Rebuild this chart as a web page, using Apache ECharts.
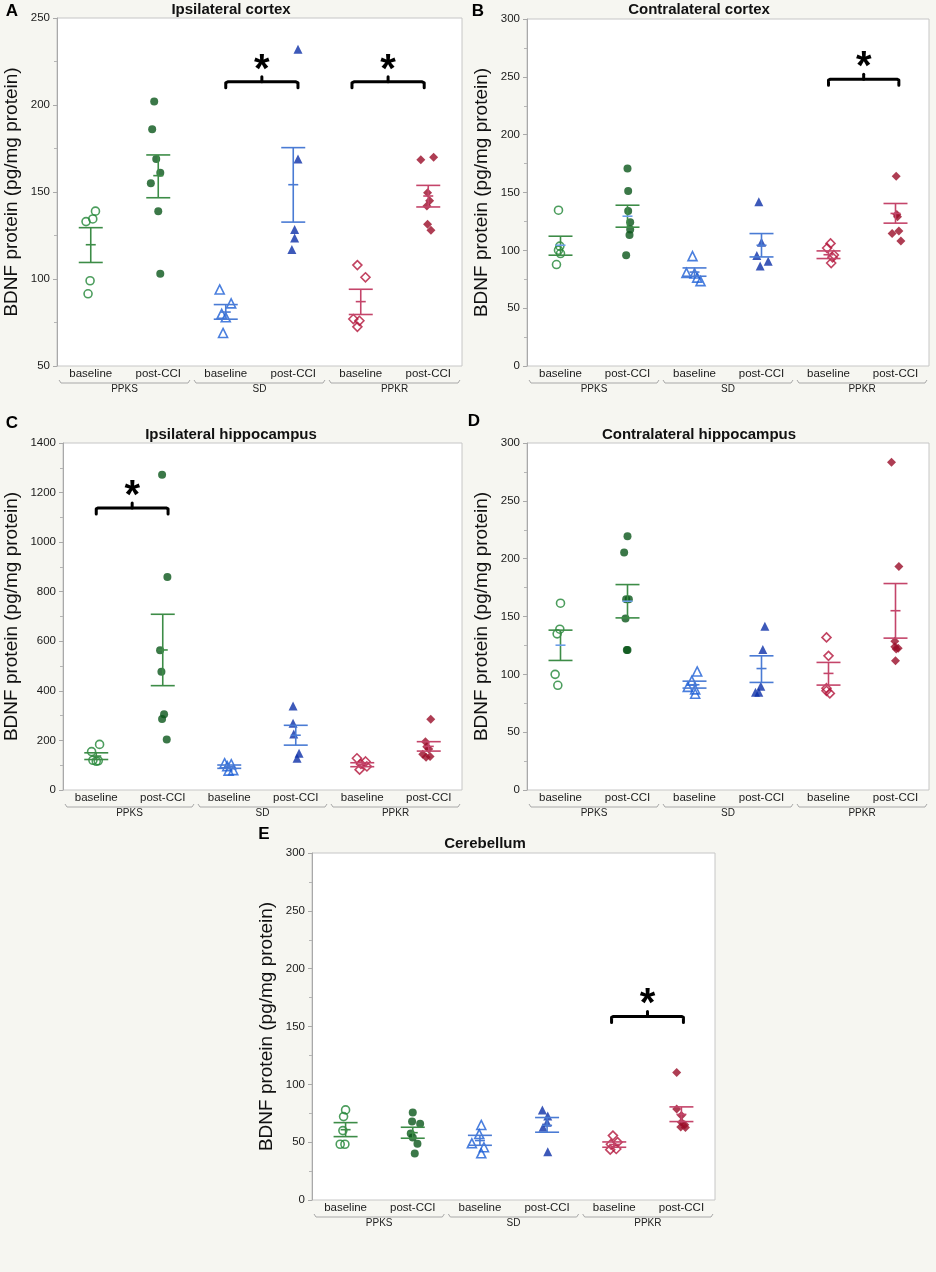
<!DOCTYPE html>
<html><head><meta charset="utf-8">
<script src="https://cdn.jsdelivr.net/npm/echarts@6/dist/echarts.min.js"></script>
<style>html,body{margin:0;padding:0;background:#f6f6f1}#c{width:936px;height:1272px}</style>
</head><body><div id="c"></div>
<script>
// ---------- shared labels ----------
const categories = ['baseline','post-CCI','baseline','post-CCI','baseline','post-CCI'];
const groups = ['PPKS','SD','PPKR'];
const yAxisName = 'BDNF protein (pg/mg protein)';

// ---------- A: Ipsilateral cortex ----------
const ipsiCortexValues = [
  [133,134.5,139,99,91.5],
  [202,186,169,161,155,139,103],
  [94,86,80,78,69],
  [232,169,128.5,123.5,117],
  [108,101,77,76,72.5],
  [168.5,170,149.5,145,142,131.5,128]
];
const ipsiCortexJitter = [
  [-0.07,0.03,0.07,-0.01,-0.04],
  [-0.06,-0.09,-0.03,0.03,-0.11,0,0.03],
  [-0.09,0.08,-0.06,0,-0.04],
  [0.07,0.07,0.02,0.02,-0.02],
  [-0.05,0.07,-0.11,-0.02,-0.05],
  [-0.11,0.08,-0.01,0.02,-0.02,-0.01,0.04]
];
const ipsiCortexMean  = [119.7,159.4,81,154.2,87,147.7];
const ipsiCortexUpper = [129.5,171.3,85.3,175.5,94.1,153.8];
const ipsiCortexLower = [109.5,146.7,76.9,132.7,79.6,141.4];
const ipsiCortexSig   = [[2,3.07,213.3],[3.87,4.94,213.3]];

// ---------- B: Contralateral cortex ----------
const contraCortexValues = [
  [134.7,103.6,100.1,97.2,87.7],
  [170.8,151.2,134.1,124.3,118,113.3,95.8],
  [95,80.5,80,76.4,73.4],
  [142,107,95.5,90.5,86.5],
  [106,102,96,94,89],
  [164,131,129,116.8,114.5,108]
];
const contraCortexJitter = [
  [-0.03,-0.01,-0.03,0,-0.06],
  [0,0.01,0.01,0.04,0.04,0.03,-0.02],
  [-0.03,-0.12,0,0.04,0.09],
  [-0.04,0,-0.07,0.1,-0.02],
  [0.03,-0.02,0.08,0.06,0.04],
  [0.01,0.02,0.03,0.05,-0.05,0.08]
];
const contraCortexMean  = [104.4,129.5,81.2,104.4,96.2,131.9];
const contraCortexUpper = [112.2,139,84.8,114.5,99.5,140.5];
const contraCortexLower = [95.8,120,77.6,94.3,92.9,123.5];
const contraCortexSig   = [[4,5.05,248]];

// ---------- C: Ipsilateral hippocampus ----------
const ipsiHippoValues = [
  [184,155,120,118,116],
  [1272,859,564,477,306,286,204],
  [108,104,96,80,78],
  [339,269,226,148,128],
  [128,115,105,95,82],
  [285,195,175,165,144,135,132]
];
const ipsiHippoJitter = [
  [0.05,-0.07,-0.05,0.03,0],
  [-0.01,0.07,-0.04,-0.02,0.02,-0.01,0.06],
  [-0.07,0.03,-0.03,0.06,-0.01],
  [-0.04,-0.04,-0.03,0.05,0.02],
  [-0.08,0.05,-0.02,0.07,-0.04],
  [0.03,-0.05,-0.03,0,-0.09,0.02,-0.04]
];
const ipsiHippoMean  = [137,565,94,221,103,176];
const ipsiHippoUpper = [150,709,100.8,261,110,195];
const ipsiHippoLower = [123,421,87.4,181,94,157];
const ipsiHippoSig   = [[0,1.08,1138]];

// ---------- D: Contralateral hippocampus ----------
const contraHippoValues = [
  [161.5,139,135,100,90.5],
  [219.4,205.3,165,165,148.3,121,121],
  [102.5,94.4,89.2,87,83.2],
  [141.6,121.5,89.8,84.6,84.6],
  [131.9,116,88,85.8,83.5],
  [283.3,193.2,128.7,123.8,122.6,122,111.7]
];
const contraHippoJitter = [
  [0,-0.01,-0.05,-0.08,-0.04],
  [0,-0.05,0.02,-0.02,-0.03,-0.01,0],
  [0.04,-0.04,-0.1,0.01,0.01],
  [0.05,0.02,-0.01,-0.09,-0.04],
  [-0.03,0,-0.03,-0.03,0.02],
  [-0.06,0.05,-0.01,-0.01,0.04,0.01,0]
];
const contraHippoMean  = [125.2,163.2,91,105,100.8,155];
const contraHippoUpper = [138.2,177.6,94.1,116,110.3,178.5];
const contraHippoLower = [112,148.8,88.1,93,90.7,131.3];
const contraHippoSig   = [];

// ---------- E: Cerebellum ----------
const cerebellumValues = [
  [77.9,72.1,60,48.2,48.2],
  [75.6,67.8,66,57.4,54,48.7,40.1],
  [64.9,57,49,45.6,40.4],
  [77.9,72.7,67.2,62.9,41.8],
  [55.7,50,48.2,44.1,43.5],
  [110.2,78.7,73,67.2,65,63.2,62.6]
];
const cerebellumJitter = [
  [0,-0.03,-0.04,-0.01,-0.08],
  [0,-0.01,0.11,-0.03,0,0.07,0.03],
  [0.02,-0.01,-0.12,0.06,0.02],
  [-0.07,0.01,0,-0.06,0.01],
  [-0.02,0.05,-0.05,0.03,-0.06],
  [-0.07,-0.07,0,0,0.05,-0.01,0.06]
];
const cerebellumMean  = [60.8,58.2,51.4,64.5,48,74];
const cerebellumUpper = [66.9,62.9,55.9,71.3,50.2,80.5];
const cerebellumLower = [54.8,53.4,47.3,58.6,45.6,67.8];
const cerebellumSig   = [[3.96,5.03,158.7]];

// ---------- y-axis tick settings ----------
const yMinA = 50,  yMaxA = 250,  yStepA = 50;
const yMinB = 0,   yMaxB = 300,  yStepB = 50;
const yMinC = 0,   yMaxC = 1400, yStepC = 200;
const yMinD = 0,   yMaxD = 300,  yStepD = 50;
const yMinE = 0,   yMaxE = 300,  yStepE = 50;

// ---------- layout / styles ----------
const panels = [
  {letter:'A', title:'Ipsilateral cortex', values:ipsiCortexValues, jitter:ipsiCortexJitter, mean:ipsiCortexMean, upper:ipsiCortexUpper, lower:ipsiCortexLower, sig:ipsiCortexSig, ymin:yMinA, ymax:yMaxA, step:yStepA,
   grid:{left:57, top:18, width:405, height:348}, nameGap:36, letterPos:[12,11], titlePos:[231,10], blueMean:false},
  {letter:'B', title:'Contralateral cortex', values:contraCortexValues, jitter:contraCortexJitter, mean:contraCortexMean, upper:contraCortexUpper, lower:contraCortexLower, sig:contraCortexSig, ymin:yMinB, ymax:yMaxB, step:yStepB,
   grid:{left:527, top:19, width:402, height:347}, nameGap:36, letterPos:[478,11], titlePos:[699,10], blueMean:true},
  {letter:'C', title:'Ipsilateral hippocampus', values:ipsiHippoValues, jitter:ipsiHippoJitter, mean:ipsiHippoMean, upper:ipsiHippoUpper, lower:ipsiHippoLower, sig:ipsiHippoSig, ymin:yMinC, ymax:yMaxC, step:yStepC,
   grid:{left:63, top:443, width:399, height:347}, nameGap:42, letterPos:[12,423], titlePos:[231,435], blueMean:false},
  {letter:'D', title:'Contralateral hippocampus', values:contraHippoValues, jitter:contraHippoJitter, mean:contraHippoMean, upper:contraHippoUpper, lower:contraHippoLower, sig:contraHippoSig, ymin:yMinD, ymax:yMaxD, step:yStepD,
   grid:{left:527, top:443, width:402, height:347}, nameGap:36, letterPos:[474,421], titlePos:[699,435], blueMean:true},
  {letter:'E', title:'Cerebellum', values:cerebellumValues, jitter:cerebellumJitter, mean:cerebellumMean, upper:cerebellumUpper, lower:cerebellumLower, sig:cerebellumSig, ymin:yMinE, ymax:yMaxE, step:yStepE,
   grid:{left:312, top:853, width:403, height:347}, nameGap:36, letterPos:[264,834], titlePos:[485,844], blueMean:false}
];

const openColors   = ['#1f8535','#1d5fd6','#b3153b'];
const filledColors = ['#0a561a','#0c2fa8','#9a0c28'];
const barColors    = ['#3d8c47','#4a7bd4','#c4456a'];
const lightBlue    = '#6c9ee8';
const shapes = ['circle','triangle','diamond'];
const sizes  = [8,9,9];
const FONT = 'Liberation Sans, Arial, sans-serif';

const grids = [], xAxes = [], yAxes = [], series = [], graphics = [];

panels.forEach((p, pi) => {
  grids.push(Object.assign({show:true, backgroundColor:'#ffffff', borderColor:'#c6c6c6', borderWidth:1, containLabel:false}, p.grid));
  xAxes.push({type:'category', gridIndex:pi, data:categories, boundaryGap:true,
    axisLine:{show:false, onZero:false}, axisTick:{show:false}, splitLine:{show:false},
    axisLabel:{margin:2, fontSize:11.5, color:'#1a1a1a', fontFamily:FONT}});
  xAxes.push({type:'value', gridIndex:pi, min:-0.5, max:5.5, show:false, axisLine:{onZero:false}, splitLine:{show:false}});
  yAxes.push({type:'value', gridIndex:pi, min:p.ymin, max:p.ymax, interval:p.step,
    axisLine:{show:true, onZero:false, lineStyle:{color:'#a9a9a9', width:1}},
    axisTick:{show:true, length:4, lineStyle:{color:'#a9a9a9'}},
    minorTick:{show:true, splitNumber:2, length:3, lineStyle:{color:'#b5b5b5'}},
    splitLine:{show:false}, minorSplitLine:{show:false},
    axisLabel:{margin:7, fontSize:11.5, color:'#1a1a1a', fontFamily:FONT, formatter:(v) => String(v)},
    name:yAxisName, nameLocation:'middle', nameGap:p.nameGap,
    nameTextStyle:{fontSize:19, color:'#111', fontFamily:FONT}});

  const xi = 2*pi + 1;
  // points
  p.values.forEach((arr, k) => {
    const g = Math.floor(k/2), open = (k % 2 === 0);
    series.push({type:'scatter', xAxisIndex:xi, yAxisIndex:pi, z:3,
      symbol:shapes[g], symbolSize:sizes[g],
      itemStyle: open ? {color:'rgba(255,255,255,0)', borderColor:openColors[g], borderWidth:1.6}
                      : {color:filledColors[g], borderWidth:0},
      data: arr.map((v, i) => [k + p.jitter[k][i], v])});
  });
  // error bars (mean +/- SEM)
  series.push({type:'custom', xAxisIndex:xi, yAxisIndex:pi, z:4, clip:false,
    encode:{x:0, y:[1,2,3]},
    data: p.mean.map((m, k) => [k, m, p.upper[k], p.lower[k]]),
    renderItem: (params, api) => {
      const k = api.value(0), g = Math.floor(k/2);
      const m = api.coord([k, api.value(1)]);
      const u = api.coord([k, api.value(2)]);
      const l = api.coord([k, api.value(3)]);
      const st = {stroke:barColors[g], lineWidth:1.6, fill:null};
      const mc = (p.blueMean && g === 0) ? lightBlue : barColors[g];
      return {type:'group', children:[
        {type:'line', shape:{x1:u[0], y1:u[1], x2:l[0], y2:l[1]}, style:st},
        {type:'line', shape:{x1:u[0]-12, y1:u[1], x2:u[0]+12, y2:u[1]}, style:st},
        {type:'line', shape:{x1:l[0]-12, y1:l[1], x2:l[0]+12, y2:l[1]}, style:st},
        {type:'line', shape:{x1:m[0]-5, y1:m[1], x2:m[0]+5, y2:m[1]}, style:{stroke:mc, lineWidth:1.6}}
      ]};
    }});
  // group brackets + labels under the axis
  series.push({type:'custom', xAxisIndex:xi, yAxisIndex:pi, z:2, clip:false, silent:true,
    encode:{x:0, y:1},
    data: groups.map((gname, g) => [2*g + 0.5, p.ymin, g]),
    renderItem: (params, api) => {
      const cx = api.value(0), g = api.value(2);
      const a = api.coord([cx - 0.97, api.value(1)]);
      const b = api.coord([cx + 0.97, api.value(1)]);
      const y = a[1] + 17;
      return {type:'group', children:[
        {type:'polyline', shape:{points:[[a[0], y-3],[a[0]+2, y],[b[0]-2, y],[b[0], y-3]]},
         style:{stroke:'#a8a8a8', lineWidth:1, fill:null}},
        {type:'text', style:{text:groups[g], x:(a[0]+b[0])/2, y:y+1, align:'center', verticalAlign:'top',
         font:'10px ' + FONT, fill:'#222'}}
      ]};
    }});
  // significance brackets
  if (p.sig.length) {
    series.push({type:'custom', xAxisIndex:xi, yAxisIndex:pi, z:5, clip:false, silent:true,
      encode:{x:[0,1], y:2},
      data: p.sig,
      renderItem: (params, api) => {
        const a = api.coord([api.value(0), api.value(2)]);
        const b = api.coord([api.value(1), api.value(2)]);
        const mid = (a[0] + b[0]) / 2, y = a[1];
        const st = {stroke:'#000', lineWidth:3, fill:null, lineJoin:'round', lineCap:'round'};
        return {type:'group', children:[
          {type:'polyline', shape:{points:[[a[0], y+6],[a[0], y+1],[a[0]+2, y],[b[0]-2, y],[b[0], y+1],[b[0], y+6]]}, style:st},
          {type:'line', shape:{x1:mid, y1:y, x2:mid, y2:y-5}, style:st},
          {type:'text', style:{text:'*', x:mid, y:y-11, align:'center', verticalAlign:'middle',
           font:'bold 40px ' + FONT, fill:'#000'}}
        ]};
      }});
  }
  graphics.push({type:'text', x:p.letterPos[0], y:p.letterPos[1],
    style:{text:p.letter, font:'bold 17px ' + FONT, fill:'#000', align:'center', verticalAlign:'middle'}});
  graphics.push({type:'text', x:p.titlePos[0], y:p.titlePos[1],
    style:{text:p.title, font:'bold 15px ' + FONT, fill:'#111', align:'center', verticalAlign:'middle'}});
});

const chart = echarts.init(document.getElementById('c'), null, {renderer:'canvas'});
chart.setOption({
  backgroundColor:'#f6f6f1',
  animation:false,
  grid:grids, xAxis:xAxes, yAxis:yAxes, series:series,
  graphic:graphics
});
</script></body></html>
